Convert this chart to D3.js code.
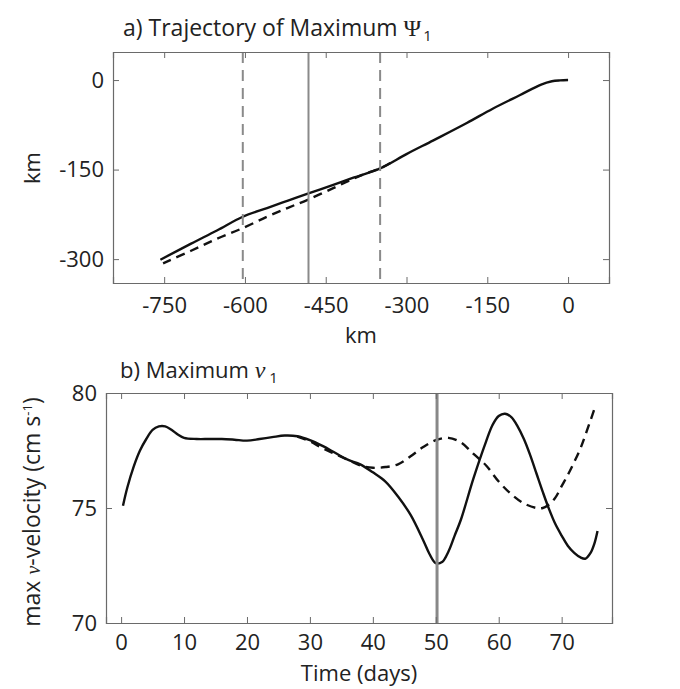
<!DOCTYPE html>
<html><head><meta charset="utf-8">
<script src="https://cdn.jsdelivr.net/npm/d3@7"></script>
<style>
html,body{margin:0;padding:0;background:#fff;}
text{font-family:"Open Sans","Lato",sans-serif;fill:#222;}
</style></head>
<body>
<svg id="chart" width="680" height="689"></svg>
<script>
// ---- Panel a data: trajectory (km) ----
const trajSolidX = [0, -15, -30, -50, -89, -140, -188, -250, -300, -349, -400, -436, -482, -520, -559, -604, -652, -700, -757];
const trajSolidY = [0, -0.5, -2, -7.5, -25, -48, -72, -101, -124, -148, -164, -175.5, -190, -202, -214.5, -229, -252, -274, -301];
const trajDashX = [-330, -349, -374, -400, -436, -482, -520, -559, -604, -652, -700, -752];
const trajDashY = [-139, -148, -156, -166, -181, -200, -214, -229, -248, -266, -286, -307];
const trajVLinesDashed = [-604, -349];
const trajVLineSolid = [-482];
const trajXTicks = [-750, -600, -450, -300, -150, 0];
const trajYTicks = [-300, -150, 0];

// ---- Panel b data: max v-velocity (cm/s) ----
const timeSolid = [0.3, 1, 2, 3, 4, 5, 6, 7, 8, 9, 10, 12, 14, 16, 18, 20, 22, 24, 26, 28, 30, 32, 34, 36, 38, 40, 42, 44, 46, 48, 49, 50, 51, 52, 53, 54, 56, 58, 59, 60, 61, 62, 63, 64, 65, 66, 67, 68, 69, 70, 71, 72, 73, 73.8, 74.6, 75.2, 75.7];
const velSolid = [75.1, 75.9, 76.8, 77.5, 78.0, 78.4, 78.55, 78.55, 78.4, 78.2, 78.05, 78.0, 78.0, 78.0, 77.97, 77.93, 78.0, 78.08, 78.15, 78.12, 77.95, 77.7, 77.4, 77.1, 76.9, 76.55, 76.15, 75.5, 74.7, 73.6, 73.0, 72.6, 72.65, 73.1, 73.8, 74.5, 76.3, 77.9, 78.6, 79.0, 79.1, 78.95, 78.55, 78.0, 77.3, 76.5, 75.7, 74.95, 74.3, 73.8, 73.35, 73.05, 72.85, 72.8, 73.05, 73.45, 74.0];
const timeDash = [28, 30, 32, 34, 36, 38, 40, 42, 44, 46, 48, 50, 52, 54, 56, 58, 60, 62, 64, 66, 67, 68, 69, 70, 71, 72, 73, 74, 75.2];
const velDash = [78.1, 77.9, 77.6, 77.35, 77.1, 76.85, 76.75, 76.78, 76.9, 77.25, 77.65, 77.95, 78.05, 77.85, 77.35, 76.85, 76.15, 75.6, 75.2, 75.0, 75.0, 75.15, 75.45, 75.95, 76.45, 77.0, 77.6, 78.35, 79.3];
const velVLine = [50.2];
const timeTicks = [0, 10, 20, 30, 40, 50, 60, 70];
const velTicks = [70, 75, 80];

const svg = d3.select("#chart");
const FS = 22;
const boxColor = "#6a6a6a";
const SERIF = '"Liberation Serif", "DejaVu Serif", serif';

function drawBox(g, x, y, xTicks, yTicks, pad) {
  const [x0, x1] = x.range(), [y1, y0] = y.range();
  const fmt = d => String(d);
  const bottom = g.append("g").attr("transform", `translate(0,${y1})`)
    .call(d3.axisBottom(x).tickValues(xTicks).tickSize(-6).tickPadding(pad).tickFormat(fmt));
  const top = g.append("g").attr("transform", `translate(0,${y0})`)
    .call(d3.axisTop(x).tickValues(xTicks).tickSize(-6).tickFormat(""));
  const left = g.append("g").attr("transform", `translate(${x0},0)`)
    .call(d3.axisLeft(y).tickValues(yTicks).tickSize(-6).tickPadding(9).tickFormat(fmt));
  const right = g.append("g").attr("transform", `translate(${x1},0)`)
    .call(d3.axisRight(y).tickValues(yTicks).tickSize(-6).tickFormat(""));
  [bottom, top, left, right].forEach(a => {
    a.select(".domain").attr("stroke", boxColor).attr("stroke-width", 1.2);
    a.selectAll(".tick line").attr("stroke", boxColor).attr("stroke-width", 1);
    a.selectAll(".tick text").attr("font-size", FS).attr("fill", "#222")
      .attr("font-family", '"Open Sans", sans-serif');
  });
}

// ================= Panel a =================
const xa = d3.scaleLinear().domain([-845, 76]).range([113, 609]);
const ya = d3.scaleLinear().domain([-340, 47]).range([283, 52]);
const ga = svg.append("g");

const lineA = d3.line().x(d => xa(d[0])).y(d => ya(d[1])).curve(d3.curveCatmullRom);
const solidA = trajSolidX.map((v, i) => [v, trajSolidY[i]]);
const dashA = trajDashX.map((v, i) => [v, trajDashY[i]]);

ga.append("path").datum(dashA).attr("d", lineA).attr("fill", "none")
  .attr("stroke", "#111").attr("stroke-width", 2.4).attr("stroke-dasharray", "9,6");
ga.append("path").datum(solidA).attr("d", lineA).attr("fill", "none")
  .attr("stroke", "#111").attr("stroke-width", 2.4);

ga.selectAll(".vd").data(trajVLinesDashed).join("line")
  .attr("x1", d => xa(d)).attr("x2", d => xa(d)).attr("y1", ya.range()[1]).attr("y2", ya.range()[0])
  .attr("stroke", "#8a8a8a").attr("stroke-width", 2).attr("stroke-dasharray", "11,7");
ga.selectAll(".vs").data(trajVLineSolid).join("line")
  .attr("x1", d => xa(d)).attr("x2", d => xa(d)).attr("y1", ya.range()[1]).attr("y2", ya.range()[0])
  .attr("stroke", "#8a8a8a").attr("stroke-width", 2);

drawBox(ga, xa, ya, trajXTicks, trajYTicks, 14);

const ta = svg.append("text").attr("x", 123).attr("y", 36).attr("font-size", 23);
ta.append("tspan").text("a) Trajectory of Maximum ");
ta.append("tspan").attr("font-family", SERIF).attr("font-size", 24).text("\u03A8");
ta.append("tspan").attr("font-size", 15).attr("dy", 5).attr("dx", 2).text("1");

svg.append("text").attr("x", 361).attr("y", 343).attr("text-anchor", "middle").attr("font-size", FS).text("km");
svg.append("text").attr("transform", "translate(40,168) rotate(-90)").attr("text-anchor", "middle").attr("font-size", FS).text("km");

// ================= Panel b =================
const xb = d3.scaleLinear().domain([-2.4, 78]).range([106, 612]);
const yb = d3.scaleLinear().domain([70, 80]).range([623, 393]);
const gb = svg.append("g");

const lineB = d3.line().x(d => xb(d[0])).y(d => yb(d[1])).curve(d3.curveCatmullRom);
const solidB = timeSolid.map((t, i) => [t, velSolid[i]]);
const dashB = timeDash.map((t, i) => [t, velDash[i]]);

gb.append("path").datum(dashB).attr("d", lineB).attr("fill", "none")
  .attr("stroke", "#111").attr("stroke-width", 2.4).attr("stroke-dasharray", "9,6");
gb.append("path").datum(solidB).attr("d", lineB).attr("fill", "none")
  .attr("stroke", "#111").attr("stroke-width", 2.4);

gb.selectAll(".vb").data(velVLine).join("line")
  .attr("x1", d => xb(d)).attr("x2", d => xb(d)).attr("y1", yb.range()[1]).attr("y2", yb.range()[0])
  .attr("stroke", "#888").attr("stroke-width", 3);

drawBox(gb, xb, yb, timeTicks, velTicks, 11);

const tb = svg.append("text").attr("x", 120).attr("y", 378).attr("font-size", FS);
tb.append("tspan").text("b) Maximum ");
tb.append("tspan").attr("font-style", "italic").attr("font-family", SERIF).attr("font-size", 24).text("\u03BD");
tb.append("tspan").attr("font-size", 15).attr("dy", 5).attr("dx", 4).text("1");

svg.append("text").attr("x", 359).attr("y", 681).attr("text-anchor", "middle").attr("font-size", FS).text("Time (days)");
const yl = svg.append("text").attr("transform", "translate(40,512) rotate(-90)").attr("text-anchor", "middle").attr("font-size", 23);
yl.append("tspan").text("max ");
yl.append("tspan").attr("font-size", 20).attr("font-family", SERIF).attr("font-style", "italic").text("\u03BD");
yl.append("tspan").text("-velocity (cm s");
yl.append("tspan").attr("font-size", 13).attr("dy", -8).text("-1");
yl.append("tspan").attr("dy", 8).text(")");
</script>
</body></html>
